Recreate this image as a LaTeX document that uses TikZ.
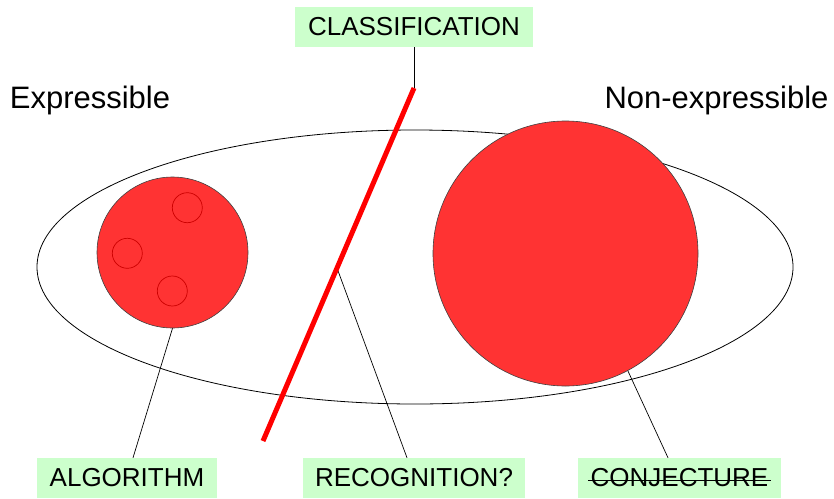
\documentclass[tikz,border=0pt]{standalone}
\usepackage{fontspec}
\setmainfont{Liberation Sans}
\usetikzlibrary{shapes.geometric,calc}
\definecolor{labelgreen}{HTML}{CCFFCC}
\definecolor{setred}{HTML}{FF3333}
\definecolor{ringred}{HTML}{CC0000}
\begin{document}
\begin{tikzpicture}[x=1pt,y=-1pt,
  lbl/.style={fill=labelgreen, minimum height=40pt, inner sep=0pt, font=\fontsize{26}{30}\selectfont},
  side/.style={font=\fontsize{31}{36}\selectfont, inner sep=0pt},
  setc/.style={circle, draw=black!75, line width=0.6pt, fill=setred, inner sep=0pt},
  ring/.style={circle, draw=ringred, line width=0.7pt, inner sep=0pt, minimum size=30pt},
  conn/.style={draw=black, line width=0.7pt}]
\useasboundingbox (0,0) rectangle (834,498);
% universe
\node[ellipse, draw, line width=0.8pt, minimum width=756pt, minimum height=274pt, inner sep=0pt] (univ) at (415,267) {};
% sets
\node[setc, minimum size=151pt] (smallc) at (172.5,252.5) {};
\node[ring] (r1) at (187.3,207.7) {};
\node[ring] (r2) at (127.3,253.3) {};
\node[ring] (r3) at (172.3,291) {};
\node[setc, minimum size=265pt] (bigc) at (565.5,253.5) {};
% side texts
\node[side] (expr) at (90,100) {Expressible};
\node[side] (nonexpr) at (716.5,100) {Non-expressible};
% labels
\node[lbl, minimum width=238pt] (cls) at (414,27) {CLASSIFICATION};
\node[lbl, minimum width=180pt] (alg) at (127,478) {ALGORITHM};
\node[lbl, minimum width=222pt] (rec) at (414,478) {RECOGNITION?};
\node[lbl, minimum width=203pt] (conj) at (679.5,478) {CONJECTURE};
\draw[line width=0.9pt] ([xshift=10pt,yshift=-2pt]conj.west) -- ([xshift=-10pt,yshift=-2pt]conj.east);
% separating line
\coordinate (rtop) at (414,88);
\coordinate (rbot) at (263,441);
\coordinate (rmid) at ($(rtop)!0.51!(rbot)$);
% connectors
\draw[conn] (cls.south) -- (rtop);
\draw[conn] (smallc.south) -- ([xshift=6pt]alg.north);
\draw[conn] (rmid) -- ([xshift=-7pt]rec.north);
\draw[conn] (bigc.-62) -- ([xshift=-11.5pt]conj.north);
\draw[red, line width=5pt] (rtop) -- (rbot);
\end{tikzpicture}
\end{document}
